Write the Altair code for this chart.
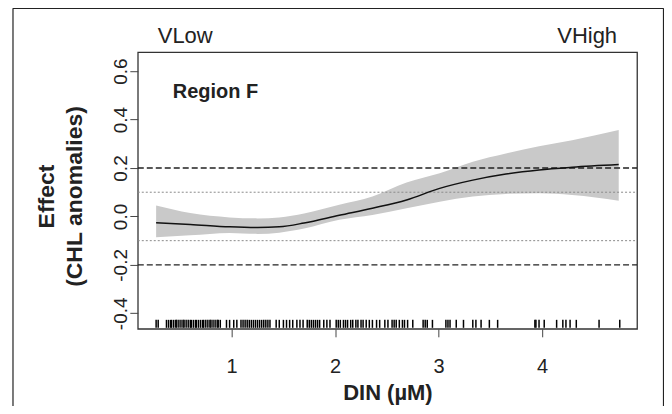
import altair as alt
import pandas as pd

# Smooth effect curve with confidence band
din_grid = [0.27, 0.6, 0.98, 1.25, 1.46, 1.7, 2.04, 2.36, 2.69, 3.01, 3.33, 3.65, 3.97, 4.29, 4.74]
effect_fit = [-0.026, -0.033, -0.043, -0.046, -0.043, -0.027, 0.005, 0.034, 0.068, 0.116, 0.15, 0.175, 0.192, 0.203, 0.214]
effect_upper = [0.045, 0.014, -0.004, -0.008, -0.004, 0.012, 0.048, 0.082, 0.14, 0.178, 0.226, 0.26, 0.29, 0.315, 0.357]
effect_lower = [-0.086, -0.078, -0.068, -0.072, -0.067, -0.05, -0.014, 0.006, 0.034, 0.061, 0.082, 0.093, 0.096, 0.089, 0.065]

# Rug of observed DIN values
rug_din = [0.27, 0.29,
           0.37, 0.39, 0.41, 0.42, 0.44, 0.46, 0.47, 0.49, 0.51, 0.53, 0.54, 0.56, 0.58, 0.60, 0.61,
           0.63, 0.65, 0.66, 0.68, 0.70, 0.72, 0.73, 0.75, 0.77, 0.79, 0.80, 0.82, 0.84, 0.86, 0.87, 0.89,
           0.95, 0.98, 1.02, 1.05,
           1.09, 1.11, 1.13, 1.15, 1.17, 1.19, 1.21, 1.23, 1.25, 1.27, 1.29, 1.31, 1.33, 1.35, 1.37,
           1.43, 1.46, 1.50, 1.53, 1.56, 1.59,
           1.63, 1.66, 1.69, 1.73, 1.75, 1.77, 1.79, 1.81, 1.83, 1.85,
           1.89, 1.92, 1.95,
           2.01, 2.03, 2.05, 2.08, 2.10, 2.12, 2.15, 2.17, 2.20, 2.22, 2.25, 2.27, 2.30, 2.33,
           2.36, 2.40, 2.43,
           2.48, 2.51, 2.55, 2.57, 2.59, 2.62, 2.65, 2.67, 2.70, 2.75, 2.85, 2.87, 2.89, 2.94,
           3.07, 3.09, 3.11, 3.17, 3.24, 3.33, 3.36, 3.41, 3.49, 3.57,
           3.93, 3.94, 3.97, 4.02, 4.14, 4.20, 4.23, 4.27, 4.33, 4.55, 4.75]

dashed_levels = [0.2, -0.2]
dotted_levels = [0.1, -0.1]
x_ticks = [1, 2, 3, 4]
y_ticks = [-0.4, -0.2, 0.0, 0.2, 0.4, 0.6]

W, H = 500, 277
FONT = "Liberation Sans"

curve = pd.DataFrame({"din": din_grid, "fit": effect_fit, "lo": effect_lower, "hi": effect_upper})
rug = pd.DataFrame({"din": rug_din})
dashed = pd.DataFrame({"lvl": dashed_levels})
dotted = pd.DataFrame({"lvl": dotted_levels})
one = pd.DataFrame({"a": [0]})

xs = alt.Scale(domain=[0.093, 4.917], nice=False, zero=False)
ys = alt.Scale(domain=[-0.464, 0.678], nice=False, zero=False)

x_axis = alt.Axis(values=x_ticks, format="d", title="DIN (µM)", tickSize=8, labelPadding=36,
                  labelBaseline="alphabetic", labelFontSize=20, titleFontSize=22, titleFontWeight="bold",
                  titleY=71, titleBaseline="alphabetic", domain=False, grid=False,
                  tickColor="#444", labelColor="#222", titleColor="#222")
y_axis = alt.Axis(values=y_ticks, title=["Effect", "(CHL anomalies)"], tickSize=8,
                  labelExpr="datum.value < 0 ? '-' + format(-datum.value, '.1f') : format(datum.value, '.1f')",
                  labelAngle=-90, labelAlign="center", labelBaseline="alphabetic", labelPadding=3,
                  labelFontSize=19, titleFontSize=23, titleFontWeight="bold", titleLineHeight=28,
                  titleAngle=-90, titleAlign="center", titleBaseline="middle", titleX=-91, titleY=144,
                  domain=False, grid=False, tickColor="#444", labelColor="#222", titleColor="#222")

band = alt.Chart(curve).mark_area(color="#c9c9c9", interpolate="monotone").encode(
    x=alt.X("din:Q", scale=xs, axis=x_axis),
    y=alt.Y("lo:Q", scale=ys, axis=y_axis),
    y2="hi:Q",
)

dash_rules = alt.Chart(dashed).mark_rule(color="#222", strokeDash=[6, 3], strokeWidth=1.3).encode(
    y=alt.Y("lvl:Q", scale=ys), x=alt.value(0), x2=alt.value(W)
)
dot_rules = alt.Chart(dotted).mark_rule(color="#8a8a8a", strokeDash=[2, 2], strokeWidth=1).encode(
    y=alt.Y("lvl:Q", scale=ys), x=alt.value(0), x2=alt.value(W)
)

line = alt.Chart(curve).mark_line(color="#111", strokeWidth=1.5, interpolate="monotone").encode(
    x=alt.X("din:Q", scale=xs), y=alt.Y("fit:Q", scale=ys)
)

rug_marks = alt.Chart(rug).mark_rule(color="#000", strokeWidth=1.5, opacity=1).encode(
    x=alt.X("din:Q", scale=xs), y=alt.value(H - 9), y2=alt.value(H - 1)
)

def label(text, x, y, align, size, weight="normal"):
    return alt.Chart(one).mark_text(text=text, align=align, baseline="alphabetic", font=FONT,
                                    fontSize=size, fontWeight=weight, color="#222").encode(
        x=alt.value(x), y=alt.value(y))

vlow = label("VLow", 20, -9, "left", 22)
vhigh = label("VHigh", 480, -9, "right", 22)
region = label("Region F", 35, 46, "left", 20, "bold")

frame_left = alt.Chart(one).mark_rule(color="#222", strokeWidth=1.2).encode(
    x=alt.value(-125), y=alt.value(-44), y2=alt.value(H + 80))
frame_top = alt.Chart(one).mark_rule(color="#222", strokeWidth=1.2).encode(
    x=alt.value(-125), x2=alt.value(526.5), y=alt.value(-44))
frame_right = alt.Chart(one).mark_rule(color="#222", strokeWidth=1.2).encode(
    x=alt.value(526.5), y=alt.value(-44), y2=alt.value(H + 80))

chart = alt.layer(band, dot_rules, dash_rules, line, rug_marks, vlow, vhigh, region,
                  frame_left, frame_top, frame_right).properties(
    width=W, height=H,
    autosize=alt.AutoSizeParams(type="none"),
    padding={"left": 130, "top": 44, "right": 27, "bottom": 77},
    background="white",
).configure_view(stroke="#333", strokeWidth=1.3).configure_axis(
    labelFont=FONT, titleFont=FONT
)

chart.save("out.html", embed_options={"renderer": "svg", "actions": False})
